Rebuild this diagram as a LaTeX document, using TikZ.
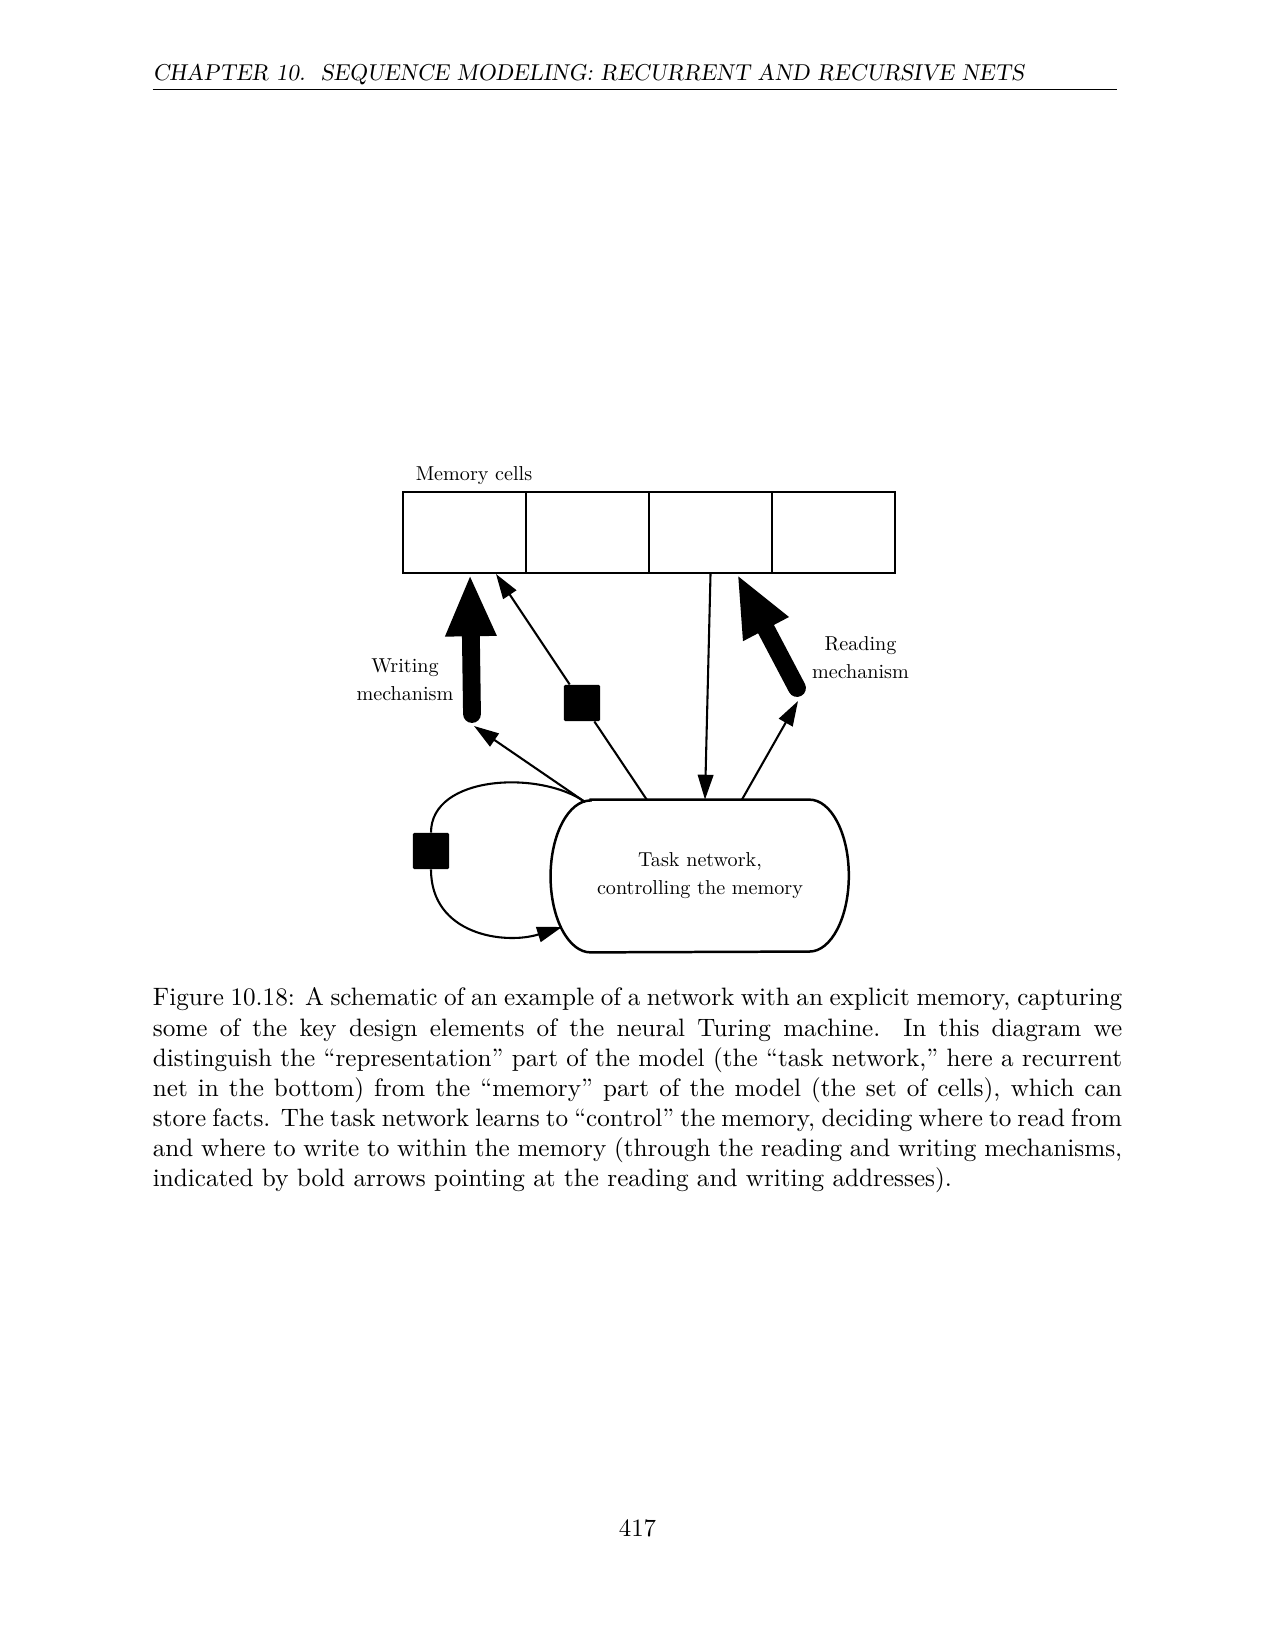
\documentclass[tikz,border=0pt]{standalone}
\usepackage{fontspec}
\setmainfont{lmroman10-regular}[Extension=.otf,SlantedFont=lmromanslant10-regular,Ligatures=TeX]
\usepackage{tikz}
\usetikzlibrary{calc,positioning,arrows.meta}

\begin{document}
\begin{tikzpicture}[x=0.4818pt,y=-0.4818pt,
		cell/.style={draw,line width=1.2pt,minimum width=59.3pt,minimum height=39pt,inner sep=0pt},
		gate/.style={fill=black,minimum size=17.4pt,inner sep=0pt,rounded corners=0.6pt},
		lbl/.style={font=\fontsize{9.7}{13.5}\selectfont,align=center,inner sep=0pt},
		link/.style={line width=1pt},
		wire/.style={link,-{Triangle[length=12pt,width=7.5pt]}},
		boldarrow/.style={line width=8.6pt,line cap=round,-{Triangle[length=30pt,width=22.5pt]}}]
	\useasboundingbox (0,0) rectangle (1275,1650);

	% running head
	\node[anchor=base west,inner sep=0pt,font=\fontsize{11.05}{13.6}\selectfont\slshape] (head) at (152.5,81) {CHAPTER 10.\ \ SEQUENCE MODELING: RECURRENT AND RECURSIVE NETS};
	\draw[line width=0.6pt] (152.7,89.5) -- (1117,89.5);

	% memory
	\node[lbl,anchor=base] (memlabel) at (474,481) {Memory cells};
	\node[cell] (c1) at (464.5,532.5) {};
	\node[cell] (c2) at (587.5,532.5) {};
	\node[cell] (c3) at (710.5,532.5) {};
	\node[cell] (c4) at (833.5,532.5) {};

	% controller
	\node[lbl,minimum width=105pt,minimum height=73.2pt] (task) at (700,876) {Task network,\\controlling the memory};
	\draw[line width=1.2pt] (task.north west) -- (task.north east) arc[start angle=90,end angle=-90,x radius=19pt,y radius=36.6pt] -- (task.south west) arc[start angle=270,end angle=90,x radius=19.3pt,y radius=36.6pt] -- cycle;

	\coordinate (wtail) at (472,714);
	\coordinate (wtip) at (470,574);
	\coordinate (win) at (474,726);
	\coordinate (rtail) at (797,688);
	\coordinate (rtip) at (737,574);
	\coordinate (rin) at (798,701);
	\coordinate (tl) at (585,802);

	% writing
	\draw[boldarrow] (wtail) -- (wtip);
	\draw[wire] (tl) -- (win);
	\node[lbl] (wlabel) at (405,680) {Writing\\mechanism};

	\node[gate] (g1) at (582,703) {};
	\draw[link] (647,800) -- (g1);
	\draw[wire] (g1) -- (496,574);

	% reading
	\draw[wire] (c3.south) -- ([xshift=2.4pt]task.north);
	\draw[wire] ([xshift=20.2pt]task.north) -- (rin);
	\draw[boldarrow] (rtail) -- (rtip);
	\node[lbl] (rlabel) at (860.5,657.5) {Reading\\mechanism};

	% recurrence
	\node[gate] (g2) at (431,851) {};
	\draw[link] (tl) .. controls (540,770) and (431,775) .. (g2.north);
	\draw[wire] (g2.south) .. controls (431,935) and (505,945) .. (562,927);

	% caption
	\node[anchor=north west,inner sep=0pt,text width=467pt,align=justify,font=\fontsize{12.12}{14.5}\selectfont] (caption) at (152.5,987.5) {Figure 10.18: A schematic of an example of a network with an explicit memory, capturing\linebreak
	some of the key design elements of the neural Turing machine. In this diagram we\linebreak
	distinguish the “representation” part of the model (the “task network,” here a recurrent\linebreak
	net in the bottom) from the “memory” part of the model (the set of cells), which can\linebreak
	store facts. The task network learns to “control” the memory, deciding where to read from\linebreak
	and where to write to within the memory (through the reading and writing mechanisms,\linebreak
	indicated by bold arrows pointing at the reading and writing addresses).};

	\node[anchor=base,inner sep=0pt,font=\fontsize{12}{14.5}\selectfont] (pageno) at (637.5,1536) {417};
\end{tikzpicture}
\end{document}
